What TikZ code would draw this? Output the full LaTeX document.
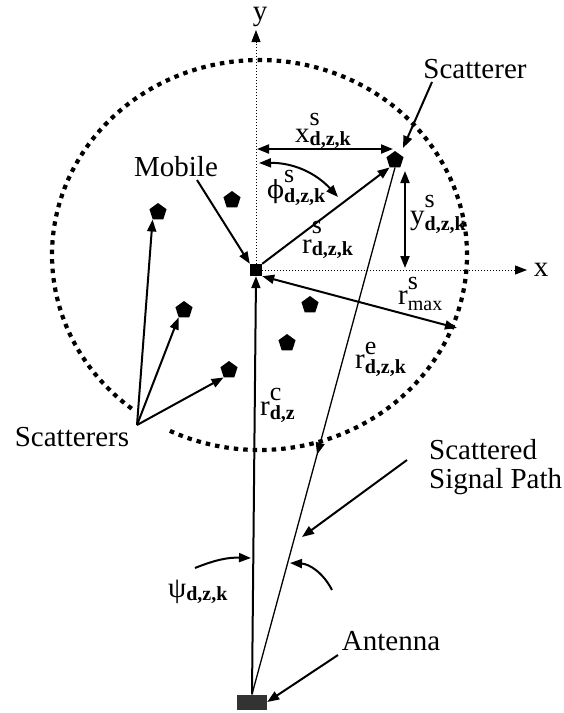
\documentclass[tikz,border=0pt]{standalone}
\usepackage{fontspec}
\setmainfont{Liberation Serif}
\newfontfamily\grk{DejaVu Serif}
\usetikzlibrary{arrows.meta,shapes.geometric,decorations.markings}
\newcommand\lbl[5]{#1\rlap{\raisebox{#4}{\fontsize{26}{26}\selectfont #2}}\raisebox{#5}{\fontsize{20}{20}\selectfont\bfseries #3}}
\begin{document}
\begin{tikzpicture}[x=1pt,y=-1pt,
  font=\fontsize{29}{29}\selectfont,
  tip/.style={-{Triangle[length=12pt,width=9pt]}},
  dtip/.style={{Triangle[length=12pt,width=9pt]}-{Triangle[length=12pt,width=9pt]}},
  arr/.style={line width=2pt},
  pent/.style={regular polygon, regular polygon sides=5, fill=black, minimum size=18pt, inner sep=0pt},
  mobsq/.style={rectangle, fill=black, minimum size=12pt, inner sep=0pt},
  antbox/.style={rectangle, fill=black!80, minimum width=30pt, minimum height=15pt, inner sep=0pt},
  lab/.style={inner sep=0pt, anchor=base west},
  txt/.style={inner sep=0pt},
  axisline/.style={line width=1pt, dash pattern=on 1pt off 2pt},
  ring/.style={line width=4.2pt, dash pattern=on 4.5pt off 5pt}
]
\fill[white] (0,0) rectangle (564,713);
\useasboundingbox (0,0) rectangle (564,713);

% dotted boundary circle
\draw[ring] plot[domain=128:475.6, samples=240, smooth] ({259.5+207.5*cos(\x)},{255+195*sin(\x)});

% nodes
\node[mobsq] (mob) at (256,270) {};
\node[antbox] (ant) at (252,702) {};
\node[pent] (PS) at (395,160) {};
\node[pent] (P1) at (158,212) {};
\node[pent] (P2) at (232,200) {};
\node[pent] (P3) at (184,310) {};
\node[pent] (P4) at (229,370) {};
\node[pent] (P5) at (287,343) {};
\node[pent] (P6) at (310,305) {};

% coordinates
\coordinate (yend) at (256,30);
\coordinate (xend) at (527,270);
\coordinate (xs1) at (257,149);
\coordinate (xs2) at (393,149);
\coordinate (ph1) at (259,163);
\coordinate (ph2) at (338,197);
\coordinate (ys1) at (405,171);
\coordinate (ys2) at (405,268);
\coordinate (rm) at (457,328);
\coordinate (hub) at (137,425);
\coordinate (mobfrom) at (197,180);
\coordinate (scfrom) at (432,82);
\coordinate (sctip) at (403,148);
\coordinate (spfrom) at (407,460);
\coordinate (sptip) at (302,537);
\coordinate (ps1) at (195,568);
\coordinate (ps2) at (251,558);
\coordinate (pa1) at (332,590);
\coordinate (pa2) at (290,563);
\coordinate (afrom) at (338,655);

% axes
\draw[axisline, tip] (mob.north) -- (yend);
\draw[axisline, tip] (mob.east) -- (xend);

% text labels
\node[txt] (ylab) at (260,17) {y};
\node[txt] (xlab) at (541,270) {x};
\node[txt] (sclab) at (475,69) {Scatterer};
\node[txt] (moblab) at (176,167) {Mobile};
\node[txt] (scslab) at (72,437) {Scatterers};
\node[txt] (antlab) at (391,641) {Antenna};
\node[txt, align=left, anchor=west] (splab) at (429,467) {Scattered\\Signal Path};

% symbol labels
\node[lab] (xsl) at (295,142) {\lbl{x}{s}{d,z,k}{17pt}{-3pt}};
\node[lab] (phl) at (267,198) {\lbl{{\grk\fontsize{25}{25}\selectfont ϕ}}{s}{d,z,k}{16pt}{-4pt}};
\node[lab] (rsl) at (302,253) {\lbl{r}{s}{d,z,k}{20pt}{-2pt}};
\node[lab] (ysl) at (410,224) {\lbl{y}{s}{d,z,k}{17pt}{-6pt}};
\node[lab] (rml) at (398,304) {\lbl{r}{s}{\mdseries max}{15pt}{-6pt}};
\node[lab] (rel) at (355,368) {\lbl{r}{e}{d,z,k}{14pt}{-5pt}};
\node[lab] (rcl) at (260,415) {\lbl{r}{c}{d,z}{15pt}{-4pt}};
\node[lab] (psl) at (168,597) {ψ\raisebox{-3pt}{\fontsize{20}{20}\selectfont\bfseries d,z,k}};

% geometry arrows
\draw[arr, dtip] (xs1) -- (xs2);
\draw[arr, dtip] (ph1) to[bend left=24] (ph2);
\draw[arr, dtip] (ys1) -- (ys2);
\draw[arr, tip] (mob.north east) -- (PS.corner 3);
\draw[arr, dtip] (mob.south east) -- (rm);
\draw[arr, tip] (ant.north) -- (mob.south);
\draw[line width=1.3pt, postaction={decorate},
  decoration={markings, mark=at position 0.545 with {\arrow{Triangle[length=12pt,width=9pt]}}}]
  (PS.south) -- (ant.north);

% pointer arrows
\draw[arr, tip] (hub) -- (P1.corner 3);
\draw[arr, tip] (hub) -- (P3.corner 3);
\draw[arr, tip] (hub) -- (P4.corner 3);
\draw[arr, tip] (mobfrom) -- (mob.north west);
\draw[arr, tip] (scfrom) -- (sctip);
\draw[arr, tip] (spfrom) -- (sptip);
\draw[arr, tip] (ps1) to[bend left=12] (ps2);
\draw[arr, tip] (pa1) to[bend right=30] (pa2);
\draw[arr, tip] (afrom) -- (ant.east);
\end{tikzpicture}
\end{document}
